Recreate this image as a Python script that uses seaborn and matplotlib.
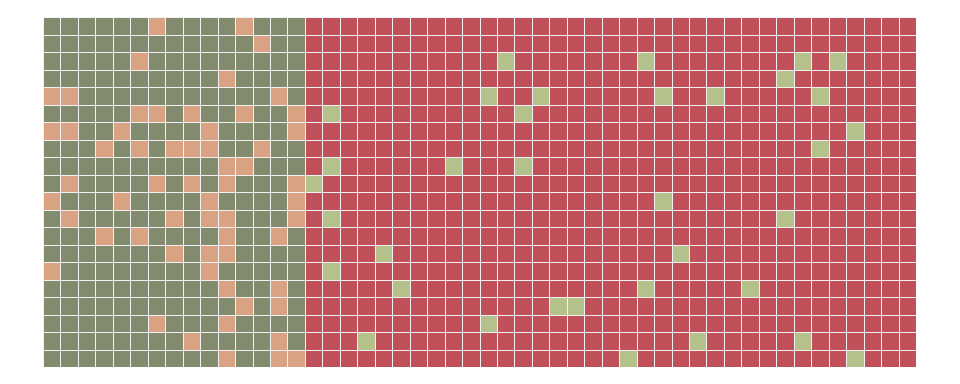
import numpy as np
import matplotlib
matplotlib.use("Agg")
import matplotlib.pyplot as plt
from matplotlib.colors import ListedColormap
import seaborn as sns

# grid layout: 20 rows x 50 columns, first 15 columns are group A
n_rows = 20
n_cols = 50
split_col = 15

# group A (left block): columns of highlighted cells per row
peach_by_row = [
    [6, 11], [12], [5], [10], [0, 1, 13],
    [5, 6, 8, 11, 14], [0, 1, 4, 9, 14], [3, 5, 7, 8, 9, 12], [10, 11], [1, 6, 8, 10, 14],
    [0, 4, 9, 14], [1, 7, 9, 10, 14], [3, 5, 10, 13], [7, 9, 10], [0, 9],
    [10, 13], [11, 13], [6, 10], [8, 13], [10, 13, 14],
]

# group B (right block): columns of highlighted cells per row
light_by_row = [
    [], [], [26, 34, 43, 45], [42], [25, 28, 35, 38, 44],
    [16, 27], [46], [44], [16, 23, 27], [15],
    [35], [16, 42], [], [19, 36], [16],
    [20, 34, 40], [29, 30], [25], [18, 37, 43], [33, 46],
]

# category colours: 0 A base, 1 A highlight, 2 B base, 3 B highlight
colors = ["#838b6f", "#d9a282", "#c0505a", "#b5c18b"]

# -------------------------------------------------
# Build the category matrix
# -------------------------------------------------
grid = np.zeros((n_rows, n_cols))
grid[:, split_col:] = 2
for r in range(n_rows):
    for c in peach_by_row[r]:
        grid[r, c] = 1
    for c in light_by_row[r]:
        grid[r, c] = 3

# -------------------------------------------------
# Draw waffle grid as a heatmap
# -------------------------------------------------
sns.set_style("white")
fig = plt.figure(figsize=(9.6, 3.84), dpi=100)
ax = fig.add_axes([43 / 960, 17 / 384, 873 / 960, 350 / 384])

sns.heatmap(
    grid,
    ax=ax,
    cmap=ListedColormap(colors),
    vmin=-0.5,
    vmax=3.5,
    cbar=False,
    linewidths=0.6,
    linecolor="#f2f2f2",
    xticklabels=False,
    yticklabels=False,
)

fig.savefig("out.png", dpi=100, facecolor="white")
